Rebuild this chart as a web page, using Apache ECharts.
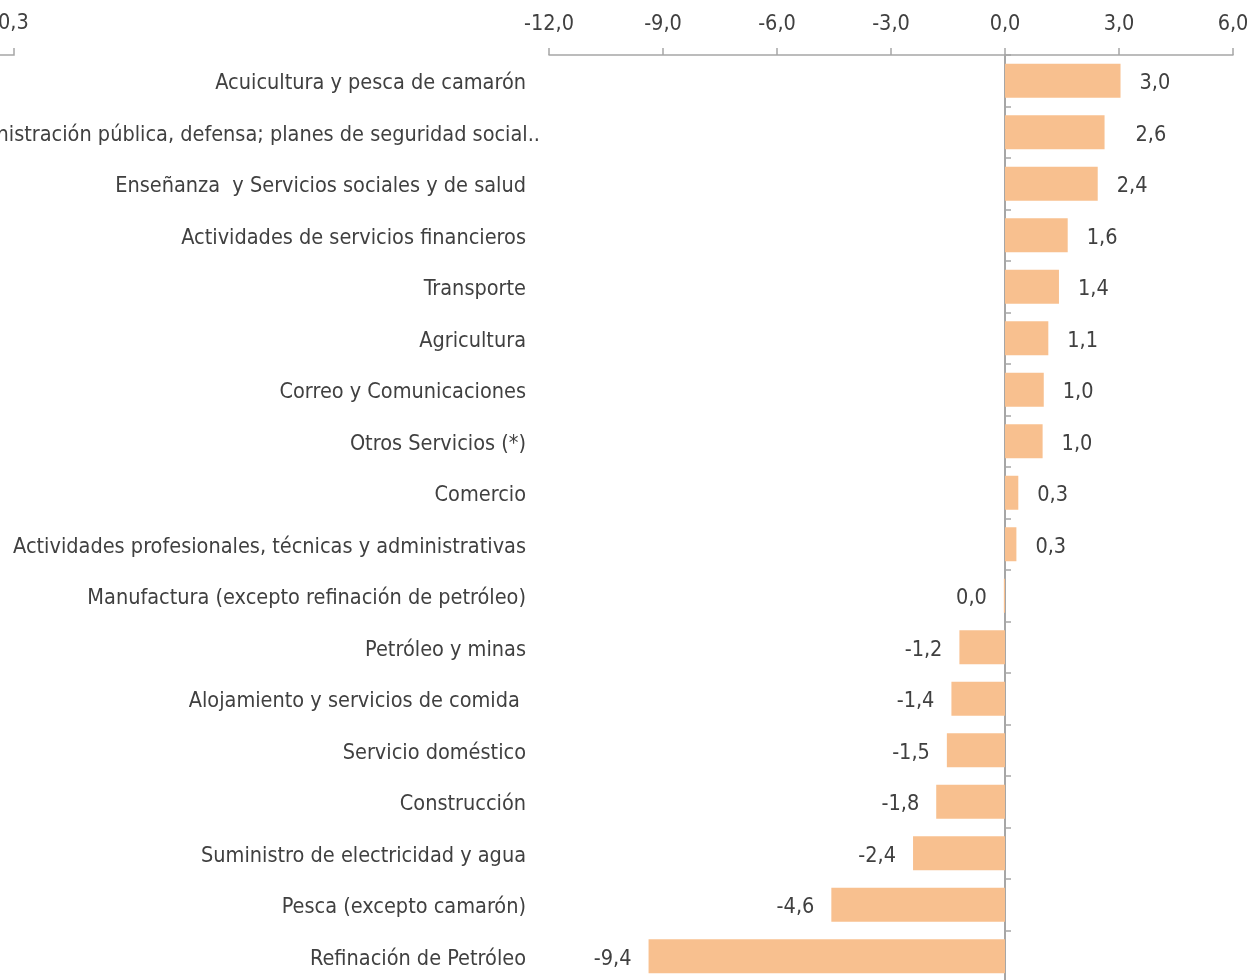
<!DOCTYPE html>
<html>
<head>
<meta charset="utf-8">
<script src="https://cdn.jsdelivr.net/npm/echarts@6/dist/echarts.min.js"></script>
<style>
  html, body { margin: 0; padding: 0; background: #fff; }
  #chart { width: 1252px; height: 980px; }
</style>
</head>
<body>
<div id="chart"></div>
<script>
const sectores = [
  'Acuicultura y pesca de camarón',
  'Administración pública, defensa; planes de seguridad social..',
  'Enseñanza  y Servicios sociales y de salud',
  'Actividades de servicios financieros',
  'Transporte',
  'Agricultura',
  'Correo y Comunicaciones',
  'Otros Servicios (*)',
  'Comercio',
  'Actividades profesionales, técnicas y administrativas',
  'Manufactura (excepto refinación de petróleo)',
  'Petróleo y minas',
  'Alojamiento y servicios de comida ',
  'Servicio doméstico',
  'Construcción',
  'Suministro de electricidad y agua',
  'Pesca (excepto camarón)',
  'Refinación de Petróleo'
]
const contribucion = [3.04, 2.62, 2.44, 1.65, 1.42, 1.14, 1.02, 0.99, 0.35, 0.3, -0.03, -1.2, -1.41, -1.53, -1.81, -2.42, -4.57, -9.38]

const fuente = '"DejaVu Sans Condensed", "Liberation Sans Narrow", sans-serif'
const gris = '#404040'
const tam = 21.5

const fmt = v => {
  if (Math.abs(v) < 0.05) return '0,0'
  return v.toFixed(1).replace('.', ',')
}

const chart = echarts.init(document.getElementById('chart'))

chart.setOption({
  animation: false,
  textStyle: { fontFamily: fuente },
  grid: { left: 549, right: 19, top: 55, height: 927, outerBoundsMode: 'none', containLabel: false },
  xAxis: {
    type: 'value',
    position: 'top',
    min: -12,
    max: 6,
    interval: 3,
    splitLine: { show: false },
    axisLine: { show: true, lineStyle: { color: '#a6a6a6', width: 1.5 } },
    axisTick: { show: true, length: 7, lineStyle: { color: '#a6a6a6', width: 1.5 } },
    axisLabel: {
      margin: 20,
      fontSize: tam,
      color: gris,
      fontFamily: fuente,
      formatter: v => fmt(v)
    }
  },
  yAxis: [
    {
      type: 'category',
      inverse: true,
      // la etiqueta larga sobresale un poco a la derecha, como en el original
      data: sectores.map((s, i) => i === 1
        ? { value: s, textStyle: { padding: [0, 0, 0, 0], verticalAlign: 'top', lineHeight: 6 } }
        : s),
      axisLine: { show: false, onZero: false },
      axisTick: { show: false },
      axisLabel: {
        margin: 9,
        padding: [0, 14, 0, 0],
        verticalAlign: 'top',
        lineHeight: 6,
        fontSize: tam,
        color: gris,
        fontFamily: fuente
      }
    },
    {
      type: 'category',
      inverse: true,
      data: sectores,
      axisLine: { show: true, onZero: true, lineStyle: { color: '#a6a6a6', width: 2 } },
      axisTick: { show: true, length: 6, lineStyle: { color: '#a6a6a6', width: 1.5 } },
      axisLabel: { show: false }
    }
  ],
  series: [{
    type: 'bar',
    yAxisIndex: 0,
    barWidth: 34,
    itemStyle: { color: '#f8c08f' },
    label: {
      show: true,
      position: 'right',
      distance: 19,
      offset: [0, 3],
      fontSize: tam,
      color: gris,
      fontFamily: fuente,
      formatter: p => fmt(p.value)
    },
    data: contribucion.map((v, i) => {
      if (v < 0) return { value: v, label: { position: 'left', distance: 17 } }
      if (i === 1) return { value: v, label: { distance: 31 } }
      return v
    })
  }],
  graphic: [
    {
      type: 'text',
      left: -2,
      top: 12,
      style: { text: '0,3', fontSize: tam, fill: gris, fontFamily: fuente }
    },
    {
      type: 'polyline',
      shape: { points: [[0, 55], [14, 55], [14, 48]] },
      style: { stroke: '#a6a6a6', lineWidth: 1.5, fill: null }
    }
  ]
})
</script>
</body>
</html>
